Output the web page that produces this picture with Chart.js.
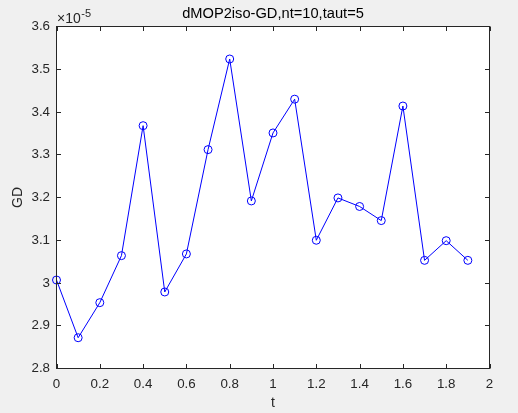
<!DOCTYPE html>
<html>
<head>
<meta charset="utf-8">
<script src="https://cdn.jsdelivr.net/npm/chart.js@4/dist/chart.umd.min.js"></script>
<style>
  html, body { margin: 0; padding: 0; background: #f0f0f0; }
  #wrap { width: 518px; height: 413px; }
</style>
</head>
<body>
<div id="wrap"><canvas id="c" width="518" height="413"></canvas></div>
<script>
// Data (GD values are in units of 1e-5)
const tValues = [0, 0.1, 0.2, 0.3, 0.4, 0.5, 0.6, 0.7, 0.8, 0.9, 1.0, 1.1, 1.2, 1.3, 1.4, 1.5, 1.6, 1.7, 1.8, 1.9];
const gdValues = [3.007, 2.872, 2.954, 3.064, 3.368, 2.979, 3.068, 3.312, 3.524, 3.192, 3.351, 3.430, 3.100, 3.199, 3.179, 3.146, 3.414, 3.053, 3.099, 3.053];
const xTicks = [0, 0.2, 0.4, 0.6, 0.8, 1, 1.2, 1.4, 1.6, 1.8, 2];
const yTicks = [2.8, 2.9, 3, 3.1, 3.2, 3.3, 3.4, 3.5, 3.6];
const titleText = 'dMOP2iso-GD,nt=10,taut=5';
const xLabel = 't';
const yLabel = 'GD';
const exponentBase = '\u00d710';
const exponentPower = '-5';

const points = tValues.map((t, i) => ({ x: t, y: gdValues[i] }));
const axisColor = '#262626';
const fontFamily = '"Liberation Sans", Arial, Helvetica, sans-serif';

const matlabFrame = {
  id: 'matlabFrame',
  beforeDraw(chart) {
    const { ctx, chartArea: a } = chart;
    ctx.save();
    ctx.fillStyle = '#f0f0f0';
    ctx.fillRect(0, 0, chart.width, chart.height);
    ctx.fillStyle = '#ffffff';
    ctx.fillRect(a.left, a.top, a.right - a.left, a.bottom - a.top);
    ctx.restore();
  },
  afterDraw(chart) {
    const { ctx, chartArea: a, scales } = chart;
    ctx.save();
    ctx.strokeStyle = axisColor;
    ctx.lineWidth = 1;
    ctx.strokeRect(a.left, a.top, a.right - a.left, a.bottom - a.top);
    const tl = 4.5;
    ctx.beginPath();
    xTicks.forEach(v => {
      const px = Math.round(scales.x.getPixelForValue(v)) + 0.5;
      ctx.moveTo(px, a.bottom); ctx.lineTo(px, a.bottom - tl);
      ctx.moveTo(px, a.top); ctx.lineTo(px, a.top + tl);
    });
    yTicks.forEach(v => {
      const py = Math.round(scales.y.getPixelForValue(v) - 0.5) + 0.5;
      ctx.moveTo(a.left, py); ctx.lineTo(a.left + tl, py);
      ctx.moveTo(a.right, py); ctx.lineTo(a.right - tl, py);
    });
    ctx.stroke();
    // exponent label
    ctx.fillStyle = axisColor;
    ctx.textBaseline = 'alphabetic';
    ctx.textAlign = 'left';
    ctx.font = '14px ' + fontFamily;
    const x0 = a.left + 0.5;
    ctx.fillText(exponentBase, x0, 22.5);
    const w = ctx.measureText(exponentBase).width;
    ctx.font = '11px ' + fontFamily;
    ctx.fillText(exponentPower, x0 + w + 0.5, 16.5);
    ctx.restore();
  }
};

new Chart(document.getElementById('c'), {
  type: 'line',
  data: {
    datasets: [{
      data: points,
      borderColor: '#0000ff',
      backgroundColor: 'rgba(0,0,0,0)',
      borderWidth: 1,
      pointRadius: 4,
      pointBorderWidth: 1,
      pointBorderColor: '#0000ff',
      pointBackgroundColor: 'rgba(0,0,0,0)',
      pointStyle: 'circle',
      tension: 0,
      clip: false
    }]
  },
  options: {
    responsive: false,
    animation: false,
    events: [],
    layout: { padding: { left: 0, right: 28.5, top: 0, bottom: 0 } },
    plugins: {
      legend: { display: false },
      tooltip: { enabled: false },
      title: {
        display: true,
        text: titleText,
        fullSize: false,
        color: '#000000',
        font: { family: fontFamily, size: 14.67, weight: 'normal', lineHeight: 1.2 },
        padding: { top: 5, bottom: 3.9 }
      }
    },
    scales: {
      x: {
        type: 'linear',
        min: 0, max: 2,
        afterBuildTicks(scale) { scale.ticks = xTicks.map(v => ({ value: v })); },
        afterFit(scale) { scale.height = 44.5; },
        grid: { display: false, drawTicks: false },
        border: { display: false },
        ticks: {
          color: axisColor,
          padding: 8,
          maxRotation: 0,
          font: { family: fontFamily, size: 13.33 },
          callback: v => String(Math.round(v * 10) / 10)
        },
        title: {
          display: true, text: xLabel, color: axisColor,
          font: { family: fontFamily, size: 14 },
          padding: { top: 0, bottom: 1.6 }
        }
      },
      y: {
        type: 'linear',
        min: 2.8, max: 3.6,
        afterBuildTicks(scale) { scale.ticks = yTicks.map(v => ({ value: v })); },
        afterFit(scale) { scale.width = 56.5; },
        grid: { display: false, drawTicks: false },
        border: { display: false },
        ticks: {
          color: axisColor,
          padding: 6.5,
          font: { family: fontFamily, size: 13.33 },
          callback: v => String(Math.round(v * 10) / 10)
        },
        title: {
          display: true, text: yLabel, color: axisColor,
          font: { family: fontFamily, size: 14 },
          padding: { top: 10, bottom: 0 }
        }
      }
    }
  },
  plugins: [matlabFrame]
});
</script>
</body>
</html>
